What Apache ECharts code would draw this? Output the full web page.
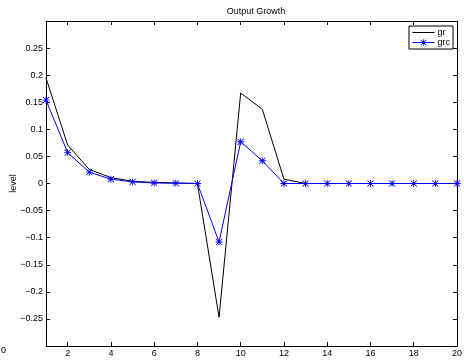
<!DOCTYPE html>
<html>
<head>
<meta charset="utf-8">
<script src="https://cdn.jsdelivr.net/npm/echarts@6/dist/echarts.min.js"></script>
<style>
  html, body { margin: 0; padding: 0; background: #fff; }
  #chart { width: 464px; height: 360px; }
</style>
</head>
<body>
<div id="chart"></div>
<script>
// Periods 1..20
const periods = [1,2,3,4,5,6,7,8,9,10,11,12,13,14,15,16,17,18,19,20];
// Output growth, baseline (gr)
const gr = [0.195, 0.071, 0.026, 0.011, 0.004, 0.002, 0.001, 0.0, -0.247, 0.167,
            0.137, 0.008, 0.0, 0.0, 0.0, 0.0, 0.0, 0.0, 0.0, 0.0];
// Output growth, alternative (grc)
const grc = [0.154, 0.057, 0.021, 0.008, 0.003, 0.001, 0.0005, 0.0, -0.108, 0.077,
             0.042, 0.0, 0.0, 0.0, 0.0, 0.0, 0.0, 0.0, 0.0, 0.0];
const xTicks = [2,4,6,8,10,12,14,16,18,20];

const FONT = 'Liberation Sans';
// Asterisk marker built from four crossing bars
const ASTERISK = 'path://M0,4.4H10V5.6H0Z M4.4,0H5.6V10H4.4Z ' +
  'M1.06,0.21L9.79,8.94L8.94,9.79L0.21,1.06Z M8.94,0.21L9.79,1.06L1.06,9.79L0.21,8.94Z';

const pair = (xs, ys) => xs.map((x, i) => [x, ys[i]]);

const chart = echarts.init(document.getElementById('chart'), null, { renderer: 'canvas' });
const tickStyle = { show: true, inside: true, length: 4, lineStyle: { color: '#000', width: 1 } };
chart.setOption({
  animation: false,
  backgroundColor: '#fff',
  title: {
    text: 'Output Growth', left: 251, top: 2, textAlign: 'center',
    textStyle: { fontFamily: FONT, fontSize: 9, fontWeight: 'normal', color: '#000' }
  },
  legend: {
    orient: 'vertical', right: 11, top: 26, padding: [2, 3, 2, 3], itemGap: 1,
    itemWidth: 22, itemHeight: 8,
    borderColor: '#000', borderWidth: 1, backgroundColor: '#fff',
    lineStyle: { width: 1 },
    textStyle: { fontFamily: FONT, fontSize: 9, color: '#000', padding: [0, 0, 0, -2] },
    data: [
      // plain line entry: keep the line, hide the point symbol
      { name: 'gr', itemStyle: { opacity: 0 } },
      'grc'
    ]
  },
  grid: { left: 46, right: 7, top: 21, bottom: 14, containLabel: false, outerBoundsMode: 'none' },
  xAxis: [{
    type: 'value', min: 1, max: 20,
    axisLine: { show: true, onZero: false, lineStyle: { color: '#000', width: 1 } },
    axisTick: Object.assign({ customValues: xTicks }, tickStyle),
    axisLabel: { customValues: xTicks, fontFamily: FONT, fontSize: 9, color: '#000', margin: 3 },
    splitLine: { show: false }
  }, {
    type: 'value', min: 1, max: 20, position: 'top',
    axisLine: { show: true, onZero: false, lineStyle: { color: '#000', width: 1 } },
    axisTick: Object.assign({ customValues: xTicks }, tickStyle),
    axisLabel: { show: false }, splitLine: { show: false }
  }],
  yAxis: [{
    type: 'value', min: -0.3, max: 0.3, interval: 0.05,
    name: 'level', nameLocation: 'middle', nameGap: 28, nameRotate: 90, nameMoveOverlap: false,
    nameTextStyle: { fontFamily: FONT, fontSize: 9, color: '#000' },
    axisLine: { show: true, onZero: false, lineStyle: { color: '#000', width: 1 } },
    axisTick: tickStyle,
    axisLabel: {
      showMinLabel: false, showMaxLabel: false,
      fontFamily: FONT, fontSize: 9, color: '#000', margin: 3,
      formatter: v => {
        const r = Math.round(v * 100) / 100;
        if (r === 0) return '0';
        let s = String(Math.abs(r));
        return (r < 0 ? '\u2212' : '') + s;
      }
    },
    splitLine: { show: false }
  }, {
    type: 'value', min: -0.3, max: 0.3, interval: 0.05, position: 'right',
    axisLine: { show: true, onZero: false, lineStyle: { color: '#000', width: 1 } },
    axisTick: tickStyle, axisLabel: { show: false }, splitLine: { show: false }
  }],
  graphic: [{
    type: 'text', left: 1, top: 346,
    style: { text: '0', font: '9px "Liberation Sans"', fill: '#000' }
  }],
  series: [{
    name: 'gr', type: 'line', data: pair(periods, gr),
    symbol: 'circle', showSymbol: false,
    lineStyle: { color: '#000', width: 1 }, itemStyle: { color: '#000' }
  }, {
    name: 'grc', type: 'line', data: pair(periods, grc),
    symbol: ASTERISK, symbolSize: 7, showSymbol: true,
    lineStyle: { color: '#0000ff', width: 1 }, itemStyle: { color: '#0000ff' }
  }]
});
</script>
</body>
</html>
